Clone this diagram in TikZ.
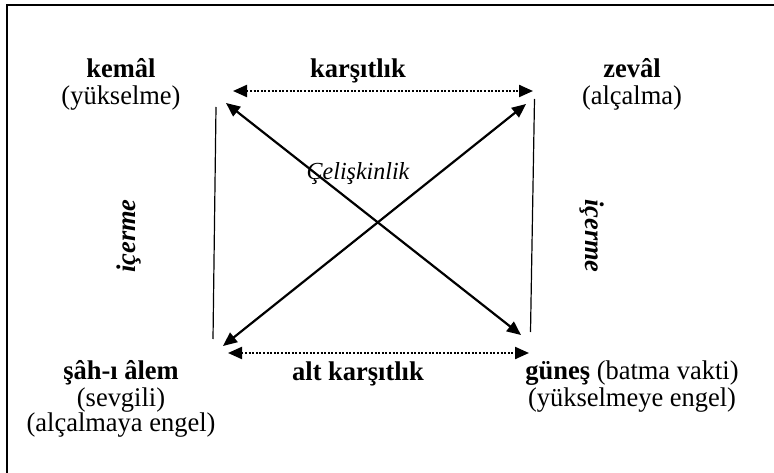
\documentclass[tikz,border=0pt]{standalone}
\usepackage{fontspec}
\setmainfont{Liberation Serif}[FakeStretch=0.98]
\usetikzlibrary{arrows.meta}

\begin{document}
\begin{tikzpicture}[x=1pt,y=-1pt,
  term/.style={anchor=base,inner sep=0pt,font=\fontsize{27}{30}\selectfont},
  head/.style={term,font=\fontsize{27}{30}\selectfont\bfseries},
  side/.style={inner sep=0pt,font=\fontsize{27}{30}\selectfont\bfseries\itshape},
  rel/.style={line width=2.2pt,{Triangle[length=14pt,width=12pt]}-{Triangle[length=14pt,width=12pt]}},
  opp/.style={rel,dash pattern=on 2pt off 1.6pt},
  imp/.style={line width=1.2pt}]
  \useasboundingbox (0,0) rectangle (774,473);
  \draw[line width=2pt] (7,473) -- (7,5) -- (774,5);
  % terms
  \node[head] (kemal) at (121,78) {kemâl};
  \node[term] (kemalnote) at (121,105) {(yükselme)};
  \node[head] (zeval) at (632,78) {zevâl};
  \node[term] (zevalnote) at (632,105) {(alçalma)};
  \node[head] (sah) at (121,379) {şâh-ı âlem};
  \node[term] (sahnote) at (121,406) {(sevgili)};
  \node[term] (sahnote2) at (121,431) {(alçalmaya engel)};
  \node[term] (gunes) at (632,379) {\textbf{güneş} (batma vakti)};
  \node[term] (gunesnote) at (632,406) {(yükselmeye engel)};
  % relations
  \node[head] (karsit) at (358,78) {karşıtlık};
  \node[head] (altkarsit) at (358,380) {alt karşıtlık};
  \node[term,font=\fontsize{24.5}{28}\selectfont\itshape] (celis) at (358,180) {Çelişkinlik};
  \node[side,rotate=90] (icermeL) at (129,236) {içerme};
  \node[side,rotate=-90] (icermeR) at (592,236) {içerme};
  % end points
  \coordinate (tl) at (233,91);
  \coordinate (tr) at (533,91);
  \coordinate (bl) at (228,353);
  \coordinate (br) at (529,353);
  \coordinate (dtl) at (226,103);
  \coordinate (dbr) at (521,335);
  \coordinate (dtr) at (526,104);
  \coordinate (dbl) at (223,346);
  \coordinate (lt) at (216,107);
  \coordinate (lb) at (213,339);
  \coordinate (rt) at (534.5,99);
  \coordinate (rb) at (530.5,332);
  \draw[opp] (tl) -- (tr);
  \draw[opp] (bl) -- (br);
  \draw[rel] (dtl) -- (dbr);
  \draw[rel] (dtr) -- (dbl);
  \draw[imp] (lt) -- (lb);
  \draw[imp] (rt) -- (rb);
\end{tikzpicture}
\end{document}
